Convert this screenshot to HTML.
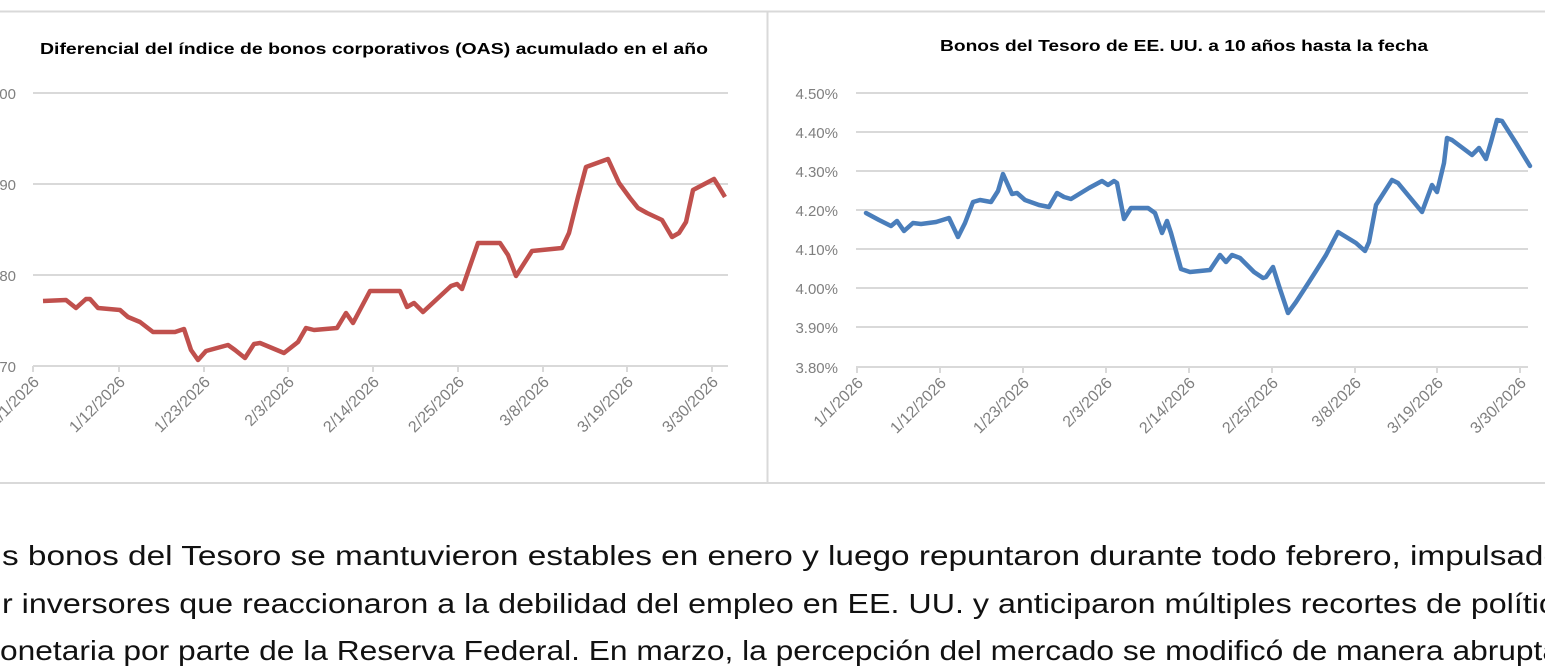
<!DOCTYPE html>
<html><head><meta charset="utf-8"><style>
html,body{margin:0;padding:0;background:#fff;width:1545px;height:672px;overflow:hidden}
svg{display:block}
.t{font-family:"Liberation Sans",sans-serif;font-weight:bold;font-size:16px;fill:#000}
.ax{font-family:"Liberation Sans",sans-serif;font-size:15px;fill:#7f7f7f}
.xl{font-family:"Liberation Sans",sans-serif;font-size:16px;fill:#7f7f7f}
.p{font-family:"Liberation Sans",sans-serif;font-size:28px;fill:#111}
</style></head><body>
<svg width="1545" height="672" viewBox="0 0 1545 672" xmlns="http://www.w3.org/2000/svg">
<rect x="0" y="0" width="1545" height="672" fill="#fff"/>
<line x1="0" y1="11.5" x2="1545" y2="11.5" stroke="#d9d9d9" stroke-width="2"/>
<line x1="0" y1="483" x2="1545" y2="483" stroke="#d9d9d9" stroke-width="2"/>
<line x1="767.5" y1="12" x2="767.5" y2="483" stroke="#d9d9d9" stroke-width="2"/>

<!-- Left chart -->
<text class="t" x="40" y="54" textLength="668" lengthAdjust="spacingAndGlyphs">Diferencial del índice de bonos corporativos (OAS) acumulado en el año</text>
<g stroke="#d9d9d9" stroke-width="2">
<line x1="33" y1="93" x2="728" y2="93"/><line x1="33" y1="184" x2="728" y2="184"/>
<line x1="33" y1="275" x2="728" y2="275"/><line x1="33" y1="366" x2="728" y2="366"/>
<line x1="33" y1="366" x2="33" y2="372"/><line x1="119" y1="366" x2="119" y2="372"/><line x1="204" y1="366" x2="204" y2="372"/><line x1="288" y1="366" x2="288" y2="372"/><line x1="373" y1="366" x2="373" y2="372"/><line x1="458" y1="366" x2="458" y2="372"/><line x1="543" y1="366" x2="543" y2="372"/><line x1="627" y1="366" x2="627" y2="372"/><line x1="712" y1="366" x2="712" y2="372"/>
</g>
<g class="ax" text-anchor="end">
<text x="16" y="99">100</text><text x="16" y="190">90</text><text x="16" y="281">80</text><text x="16" y="372">70</text>
</g>
<g class="xl" text-anchor="end">
<text transform="translate(40,383) rotate(-45)">1/1/2026</text>
<text transform="translate(126,383) rotate(-45)">1/12/2026</text>
<text transform="translate(211,383) rotate(-45)">1/23/2026</text>
<text transform="translate(295,383) rotate(-45)">2/3/2026</text>
<text transform="translate(380,383) rotate(-45)">2/14/2026</text>
<text transform="translate(465,383) rotate(-45)">2/25/2026</text>
<text transform="translate(550,383) rotate(-45)">3/8/2026</text>
<text transform="translate(634,383) rotate(-45)">3/19/2026</text>
<text transform="translate(719,383) rotate(-45)">3/30/2026</text>
</g>
<polyline fill="none" stroke="#c0504d" stroke-width="4.5" stroke-linejoin="round" points="43,301 66,300 76,308 86,299 90,299 98,308 120,310 128,317 140,322 153,332 175,332 184,329 191,350 198,360 206,351 228,345 235,350 245,358 254,344 260,343 284,353 298,342 306,328 314,330 337,328 346,313 353,323 370,291 400,291 407,307 414,303 423,312 451,286 457,284 462,289 478,243 500,243 508,255 516,276 532,251 562,248 569,233 578,197 586,167 608,159 619,183 630,198 638,208 647,213 662,220 672,237 679,233 686,222 693,190 714,179 719,187 725,197"/>

<!-- Right chart -->
<text class="t" x="940" y="51" textLength="488" lengthAdjust="spacingAndGlyphs">Bonos del Tesoro de EE. UU. a 10 años hasta la fecha</text>
<g stroke="#d9d9d9" stroke-width="2">
<line x1="856" y1="93" x2="1528" y2="93"/><line x1="856" y1="132" x2="1528" y2="132"/><line x1="856" y1="171" x2="1528" y2="171"/><line x1="856" y1="210" x2="1528" y2="210"/><line x1="856" y1="249" x2="1528" y2="249"/><line x1="856" y1="288" x2="1528" y2="288"/><line x1="856" y1="327" x2="1528" y2="327"/><line x1="856" y1="367" x2="1528" y2="367"/>
<line x1="857" y1="367" x2="857" y2="373"/><line x1="940" y1="367" x2="940" y2="373"/><line x1="1023" y1="367" x2="1023" y2="373"/><line x1="1106" y1="367" x2="1106" y2="373"/><line x1="1189" y1="367" x2="1189" y2="373"/><line x1="1272" y1="367" x2="1272" y2="373"/><line x1="1355" y1="367" x2="1355" y2="373"/><line x1="1437" y1="367" x2="1437" y2="373"/><line x1="1520" y1="367" x2="1520" y2="373"/>
</g>
<g class="ax" text-anchor="end">
<text x="838" y="99">4.50%</text><text x="838" y="138">4.40%</text><text x="838" y="177">4.30%</text><text x="838" y="216">4.20%</text><text x="838" y="255">4.10%</text><text x="838" y="294">4.00%</text><text x="838" y="333">3.90%</text><text x="838" y="373">3.80%</text>
</g>
<g class="xl" text-anchor="end">
<text transform="translate(864,384) rotate(-45)">1/1/2026</text>
<text transform="translate(947,384) rotate(-45)">1/12/2026</text>
<text transform="translate(1030,384) rotate(-45)">1/23/2026</text>
<text transform="translate(1113,384) rotate(-45)">2/3/2026</text>
<text transform="translate(1196,384) rotate(-45)">2/14/2026</text>
<text transform="translate(1279,384) rotate(-45)">2/25/2026</text>
<text transform="translate(1362,384) rotate(-45)">3/8/2026</text>
<text transform="translate(1444,384) rotate(-45)">3/19/2026</text>
<text transform="translate(1527,384) rotate(-45)">3/30/2026</text>
</g>
<polyline fill="none" stroke="#4a7ebb" stroke-width="4.5" stroke-linejoin="round" stroke-linecap="round" points="866,213 879,220 891,226 897,221 904,231 913,223 921,224 936,222 949,218 958,237 965,223 973,202 980,200 991,202 998,191 1003,174 1012,194 1017,193 1025,200 1039,205 1049,207 1057,193 1064,197 1071,199 1089,188 1102,181 1108,185 1114,181 1117,183 1124,219 1131,208 1148,208 1155,213 1162,233 1167,221 1171,233 1181,269 1190,272 1210,270 1220,255 1226,262 1232,255 1240,258 1254,272 1263,278 1266,277 1273,267 1279,286 1288,313 1296,302 1309,282 1316,271 1326,255 1338,232 1356,243 1365,251 1369,242 1376,205 1392,180 1398,183 1422,212 1432,185 1437,192 1444,163 1447,138 1452,140 1472,155 1479,148 1486,159 1491,142 1497,120 1502,121 1516,143 1530,166"/>

<!-- Paragraph -->
<text class="p" x="2" y="565" textLength="1560" lengthAdjust="spacingAndGlyphs">s bonos del Tesoro se mantuvieron estables en enero y luego repuntaron durante todo febrero, impulsado</text>
<text class="p" x="2" y="613" textLength="1553" lengthAdjust="spacingAndGlyphs">r inversores que reaccionaron a la debilidad del empleo en EE. UU. y anticiparon múltiples recortes de polític</text>
<text class="p" x="0" y="660" textLength="1560" lengthAdjust="spacingAndGlyphs">onetaria por parte de la Reserva Federal. En marzo, la percepción del mercado se modificó de manera abrupta</text>
</svg>
</body></html>
